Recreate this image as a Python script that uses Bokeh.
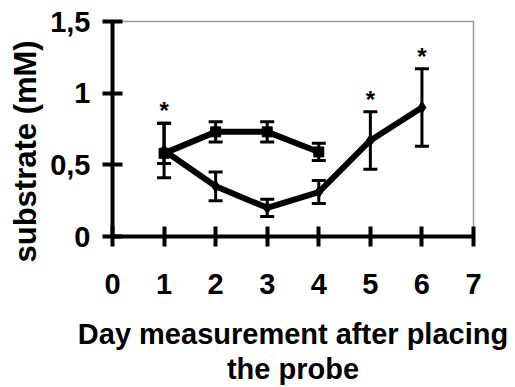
from bokeh.plotting import figure
from bokeh.models import Range1d, FixedTicker, ColumnDataSource, Whisker, TeeHead, Title
from bokeh.core.properties import value
from bokeh.embed import file_html
from bokeh.resources import INLINE

FONT = "Liberation Sans"

days_a = [1, 2, 3, 4]
mean_a = [0.58, 0.73, 0.73, 0.59]
err_a_up = [0.21, 0.07, 0.07, 0.06]
err_a_dn = [0.07, 0.07, 0.07, 0.06]

days_b = [1, 2, 3, 4, 5, 6]
mean_b = [0.60, 0.35, 0.20, 0.31, 0.67, 0.90]
err_b = [0.19, 0.10, 0.06, 0.08, 0.20, 0.27]

sig_days = [1, 5, 6]
sig_top = [0.79, 0.87, 1.17]

x_ticks = [0, 1, 2, 3, 4, 5, 6, 7]
y_ticks = [0, 0.5, 1, 1.5]
y_tick_labels = ["0", "0,5", "1", "1,5"]

p = figure(width=515, height=387, output_backend="svg", toolbar_location=None,
           x_range=Range1d(0, 7), y_range=Range1d(0, 1.5),
           min_border_left=109, min_border_right=42, min_border_top=21, min_border_bottom=151)
p.grid.visible = False
p.outline_line_color = "#9a9a9a"
p.outline_line_width = 1.5
p.background_fill_color = "white"
p.border_fill_color = "white"

for ax in (p.xaxis[0], p.yaxis[0]):
    ax.axis_line_width = 4
    ax.major_tick_line_width = 4
    ax.major_tick_in = 10
    ax.major_tick_out = 10
    ax.minor_tick_line_color = None
    ax.major_label_text_font = FONT
    ax.major_label_text_font_style = "bold"
    ax.major_label_text_font_size = "29px"
    ax.major_label_text_color = "black"
    ax.axis_line_color = "black"
    ax.major_tick_line_color = "black"

p.xaxis.ticker = FixedTicker(ticks=x_ticks)
p.yaxis.ticker = FixedTicker(ticks=y_ticks)
p.yaxis.major_label_overrides = {t: l for t, l in zip(y_ticks, y_tick_labels)}
p.xaxis.major_label_standoff = 27
p.yaxis.major_label_standoff = 12

p.xaxis.axis_label = "Day measurement after placing\nthe probe"
p.xaxis.axis_label_text_font = FONT
p.xaxis.axis_label_text_font_style = "bold"
p.xaxis.axis_label_text_font_size = "29px"
p.xaxis.axis_label_text_line_height = 1.1
p.xaxis.axis_label_text_color = "black"
p.xaxis.axis_label_standoff = 21

ytitle = Title(text="substrate (mM)", align="left", offset=-26, standoff=10,
               text_font=FONT, text_font_style="bold", text_font_size="31px",
               text_color="black")
p.add_layout(ytitle, "left")

src_a = ColumnDataSource(dict(x=days_a, y=mean_a,
                              lo=[m - e for m, e in zip(mean_a, err_a_dn)],
                              hi=[m + e for m, e in zip(mean_a, err_a_up)]))
src_b = ColumnDataSource(dict(x=days_b, y=mean_b,
                              lo=[m - e for m, e in zip(mean_b, err_b)],
                              hi=[m + e for m, e in zip(mean_b, err_b)]))

for src in (src_a, src_b):
    w = Whisker(source=src, base="x", upper="hi", lower="lo", line_width=3, line_color="black",
                upper_head=TeeHead(size=14, line_width=3, line_color="black"),
                lower_head=TeeHead(size=14, line_width=3, line_color="black"))
    p.add_layout(w)

p.line("x", "y", source=src_a, line_width=6, line_color="black")
p.scatter("x", "y", source=src_a, marker="square", size=10, color="black")
p.line("x", "y", source=src_b, line_width=6, line_color="black")
p.scatter("x", "y", source=src_b, marker="diamond", size=12, color="black")

p.text(x=sig_days, y=sig_top, text=["*"] * len(sig_days), text_align="center",
       text_baseline="bottom", y_offset=1, text_font=value(FONT), text_font_style="bold",
       text_font_size="24px", text_color="black")

open("out.html", "w").write(file_html(p, INLINE))
